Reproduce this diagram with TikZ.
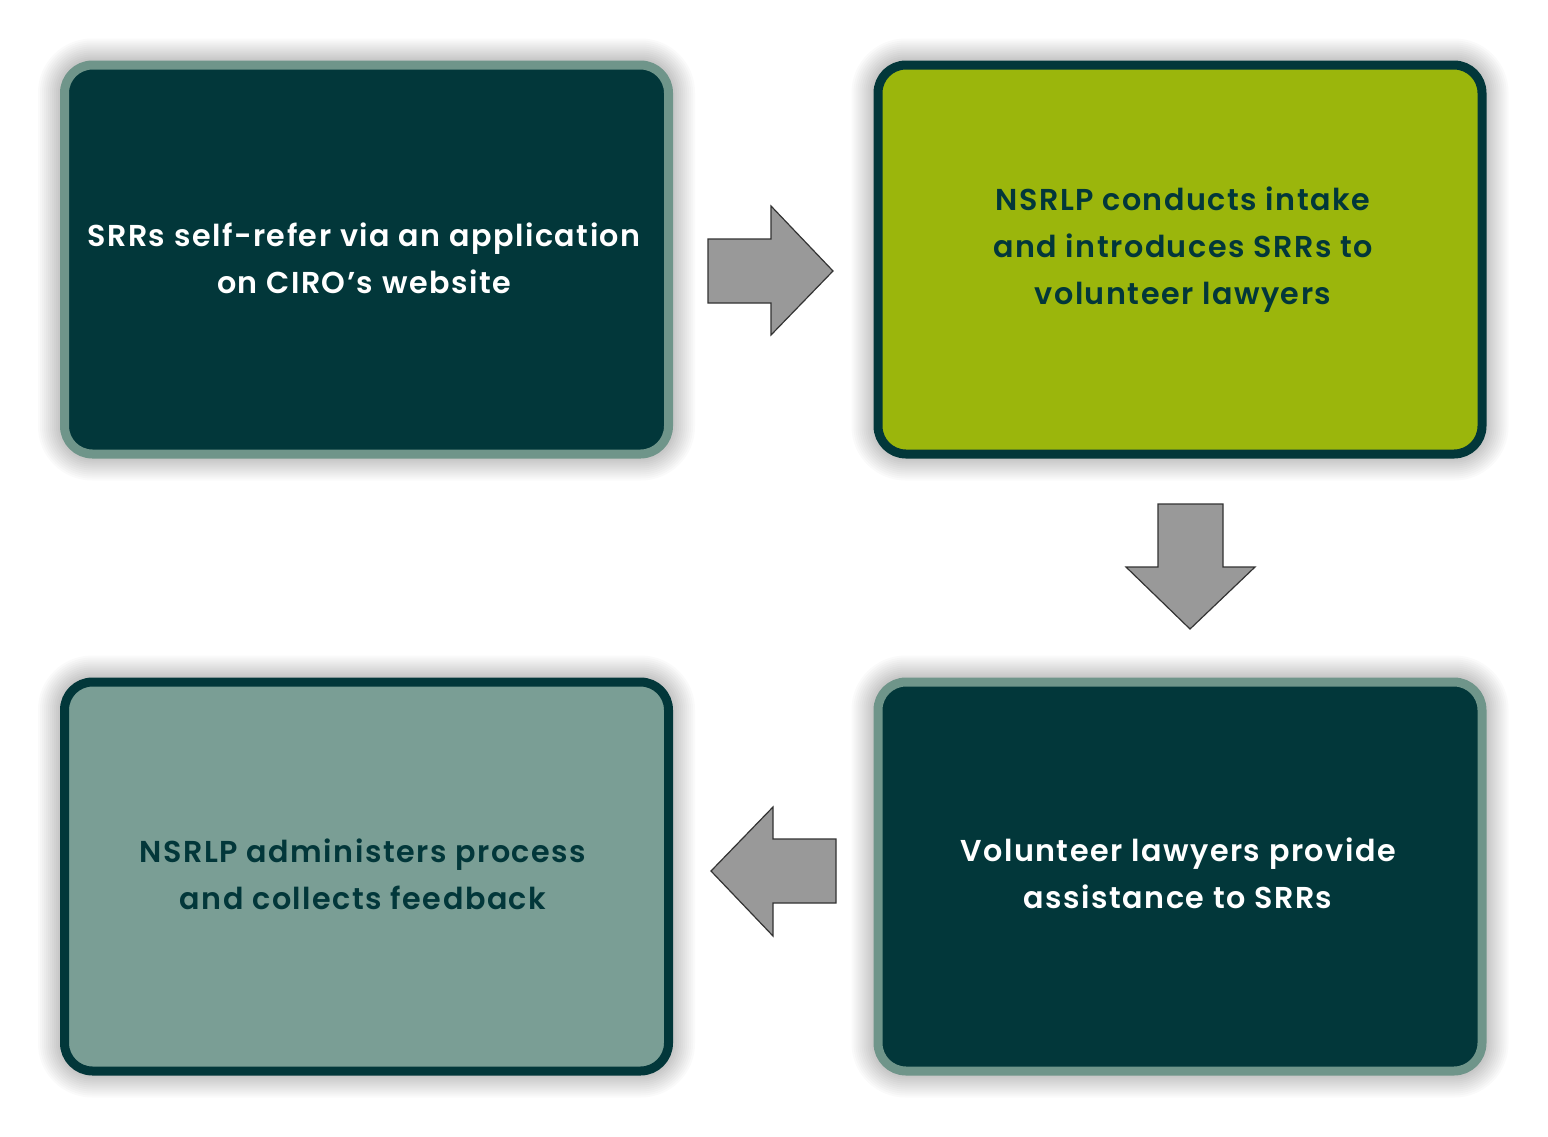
\documentclass[tikz,border=0pt]{standalone}
\usepackage{fontspec}
\newfontfamily\bxf{Poppins SemiBold}[LetterSpace=5]
\usetikzlibrary{backgrounds}
\definecolor{deepg}{HTML}{02373A}
\definecolor{sage}{HTML}{6F958A}
\definecolor{sagefill}{HTML}{7A9E95}
\definecolor{lime}{HTML}{9BB60C}
\definecolor{arrowgray}{HTML}{999999}
\begin{document}
\begin{tikzpicture}[x=1pt,y=-1pt]
\tikzset{
  card/.style={rectangle, rounded corners=28pt, line width=9pt, inner sep=0pt,
    minimum width=604pt, minimum height=389pt},
  cardtext/.style={align=center, font=\bxf\fontsize{30.2}{47}\selectfont},
  blockarrow/.style={fill=arrowgray, draw=black!80, line width=1.2pt, line join=miter},
  glowlayer/.style={fill=black, fill opacity=0.021}
}
\useasboundingbox (0,0) rectangle (1548,1136);
% cards
\node[card, fill=deepg, draw=sage] (c1) at (366.5,259.5) {};
\node[card, fill=lime, draw=deepg] (c2) at (1180,259.5) {};
\node[card, fill=deepg, draw=sage] (c3) at (1180,876.5) {};
\node[card, fill=sagefill, draw=deepg] (c4) at (366.5,876.5) {};
% soft glow shadows
\begin{pgfonlayer}{background}
\fill[white] (0,0) rectangle (1548,1136);
\foreach \c in {c1,c2,c3,c4}{
  \foreach \s in {0,2,...,22}{
    \fill[glowlayer, rounded corners=32+\s] ([shift={(-\s,-\s)}]\c.north west) rectangle ([shift={(\s,\s)}]\c.south east);
  }
}
\end{pgfonlayer}
% texts
\node[cardtext, text=white] (t1) at (364,258) {SRRs self-refer via an application\\on CIRO’s website};
\node[cardtext, text=deepg] (t2) at (1183,250) {NSRLP conducts intake\\and introduces SRRs to\\volunteer lawyers};
\node[cardtext, text=white] (t3) at (1178,873) {Volunteer lawyers provide\\assistance to SRRs};
\node[cardtext, text=deepg] (t4) at (363,874) {NSRLP administers process\\and collects feedback};
% block arrows
\draw[blockarrow] (708,239) -- (771,239) -- (771,206) -- (833,271) -- (771,335) -- (771,303) -- (708,303) -- cycle;
\draw[blockarrow] (1158,504) -- (1223,504) -- (1223,567) -- (1255,567) -- (1190,629) -- (1126,567) -- (1158,567) -- cycle;
\draw[blockarrow] (836,839) -- (773,839) -- (773,807) -- (711,871) -- (773,936) -- (773,903) -- (836,903) -- cycle;
\end{tikzpicture}
\end{document}
